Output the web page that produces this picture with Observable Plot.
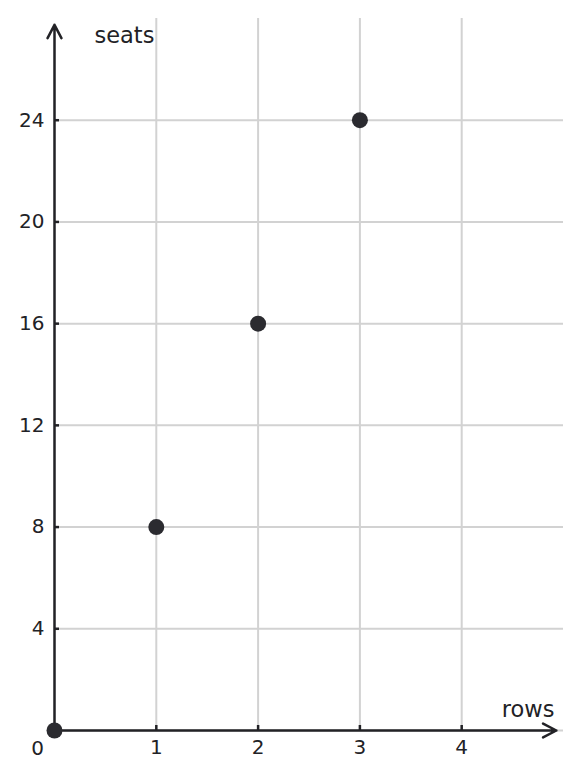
<!DOCTYPE html>
<html>
<head>
<meta charset="utf-8">
<script src="https://cdn.jsdelivr.net/npm/d3@7"></script>
<script src="https://cdn.jsdelivr.net/npm/@observablehq/plot@0.6"></script>
<style>
  body { margin: 0; background: #fff; }
  #chart svg { display: block; }
</style>
</head>
<body>
<div id="chart"></div>
<script>
const rows = [0, 1, 2, 3];
const seats = [0, 8, 16, 24];
const xTicks = [1, 2, 3, 4];
const yTicks = [4, 8, 12, 16, 20, 24];
const xDomain = [0, 5];
const yDomain = [0, 28];
const xLabel = "rows";
const yLabel = "seats";
const originLabel = "0";

const points = rows.map((r, i) => ({rows: r, seats: seats[i]}));
const ink = "#222226";
const font = "DejaVu Sans, sans-serif";

const chart = Plot.plot({
  width: 581,
  height: 778,
  marginLeft: 54,
  marginRight: 18,
  marginTop: 18,
  marginBottom: 48,
  style: {fontFamily: font, fontSize: "20px", color: ink, background: "#fff"},
  x: {domain: xDomain, axis: null},
  y: {domain: yDomain, axis: null},
  marks: [
    Plot.gridX(xTicks, {stroke: "#d2d2d2", strokeOpacity: 1, strokeWidth: 2}),
    Plot.gridY([0, ...yTicks], {stroke: "#d2d2d2", strokeOpacity: 1, strokeWidth: 2}),
    Plot.axisX(xTicks, {anchor: "bottom", tickSize: -5, strokeWidth: 2.5, stroke: ink, tickFormat: () => "", label: null}),
    Plot.axisY(yTicks, {anchor: "left", tickSize: -5, strokeWidth: 2.5, stroke: ink, tickFormat: () => "", label: null}),
    Plot.axisX(xTicks, {anchor: "bottom", tickSize: 0, tickPadding: 9, fontSize: 20, fill: ink, label: null}),
    Plot.axisY(yTicks, {anchor: "left", tickSize: 0, tickPadding: 10, fontSize: 20, fill: ink, label: null}),
    Plot.arrow([0], {x1: 0, y1: 0, x2: 4.93, y2: 0, stroke: ink, strokeWidth: 2.5, headLength: 9, headAngle: 55}),
    Plot.arrow([0], {x1: 0, y1: 0, x2: 0, y2: 27.75, stroke: ink, strokeWidth: 2.5, headLength: 9, headAngle: 55}),
    Plot.dot(points, {x: "rows", y: "seats", r: 8, fill: "#2b2b30", stroke: "none"}),
    Plot.text([originLabel], {x: 0, y: 0, text: d => d, dx: -17, dy: 18, fontSize: 20, fill: ink}),
    Plot.text([xLabel], {x: xDomain[1], y: 0, text: d => d, textAnchor: "end", dx: -9, dy: -21, fontSize: 22.5, fill: ink}),
    Plot.text([yLabel], {x: 0, y: yDomain[1], text: d => d, textAnchor: "start", dx: 40, dy: 17, fontSize: 22.5, fill: ink})
  ]
});
document.getElementById("chart").appendChild(chart);
</script>
</body>
</html>
